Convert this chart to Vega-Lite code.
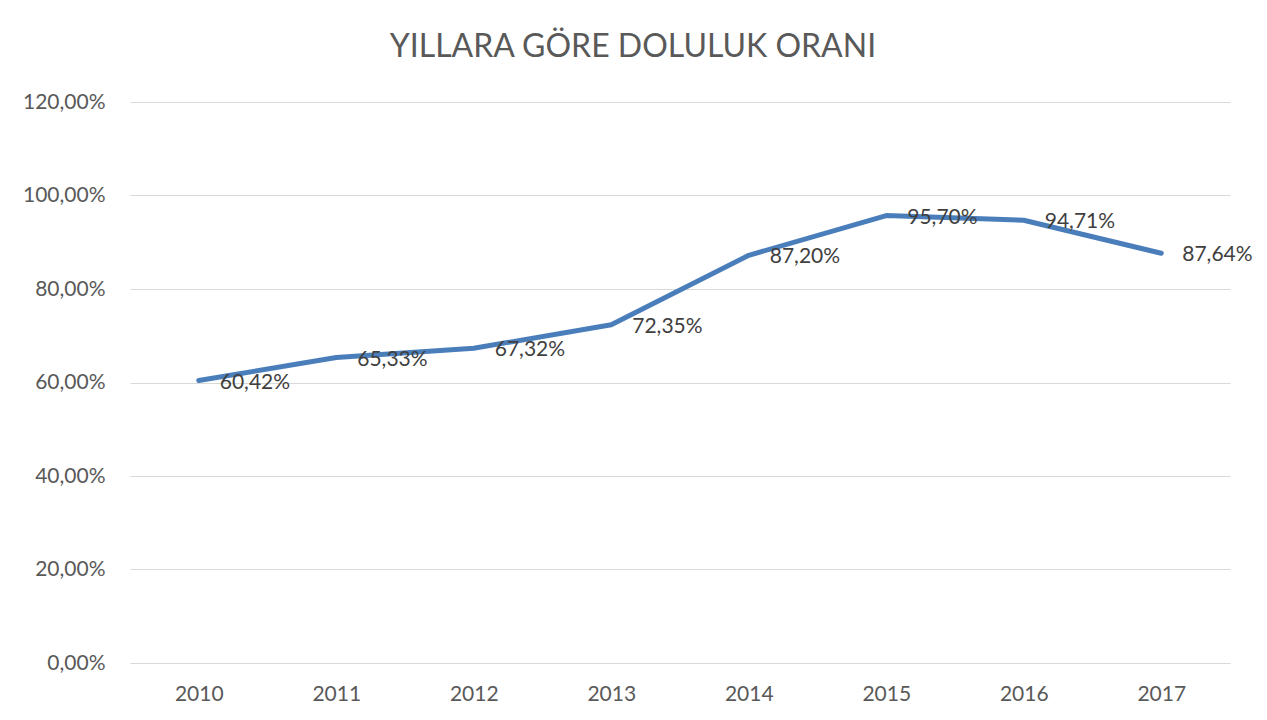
{
  "$schema": "https://vega.github.io/schema/vega-lite/v6.json",
  "autosize": "none",
  "width": 1100,
  "height": 561,
  "padding": {"left": 130, "top": 102, "right": 37, "bottom": 57},
  "background": "white",
  "title": {
    "text": "YILLARA GÖRE DOLULUK ORANI",
    "font": "Lato",
    "fontSize": 32,
    "fontWeight": "normal",
    "color": "#595959",
    "anchor": "middle",
    "dx": -47,
    "offset": 27
  },
  "data": {
    "values": [
      {"year": "2010", "rate": 0.6042},
      {"year": "2011", "rate": 0.6533},
      {"year": "2012", "rate": 0.6732},
      {"year": "2013", "rate": 0.7235},
      {"year": "2014", "rate": 0.872},
      {"year": "2015", "rate": 0.957},
      {"year": "2016", "rate": 0.9471},
      {"year": "2017", "rate": 0.8764}
    ]
  },
  "encoding": {
    "x": {
      "field": "year",
      "type": "ordinal",
      "title": null,
      "axis": {
        "labelAngle": 0,
        "ticks": false,
        "domainColor": "#d9d9d9",
        "domainWidth": 1,
        "labelPadding": 20,
        "labelFont": "Lato",
        "labelFontSize": 21,
        "labelColor": "#595959"
      }
    },
    "y": {
      "field": "rate",
      "type": "quantitative",
      "title": null,
      "scale": {"domain": [0, 1.2], "nice": false},
      "axis": {
        "values": [0, 0.2, 0.4, 0.6, 0.8, 1.0, 1.2],
        "format": ".2%",
        "domain": false,
        "ticks": false,
        "gridColor": "#d9d9d9",
        "gridWidth": 1,
        "labelPadding": 25,
        "labelFont": "Lato",
        "labelFontSize": 21,
        "labelColor": "#595959"
      }
    }
  },
  "layer": [
    {
      "mark": {"type": "line", "color": "#4a7ebb", "strokeWidth": 5, "strokeCap": "round", "strokeJoin": "round"}
    },
    {
      "mark": {"type": "text", "align": "left", "baseline": "middle", "dx": 21, "dy": 2, "font": "Lato", "fontSize": 21, "color": "#404040"},
      "encoding": {
        "text": {"field": "rate", "type": "quantitative", "format": ".2%"}
      }
    }
  ],
  "config": {
    "locale": {
      "number": {"decimal": ",", "thousands": ".", "grouping": [3], "currency": ["", " TL"]}
    },
    "view": {"stroke": null}
  }
}
